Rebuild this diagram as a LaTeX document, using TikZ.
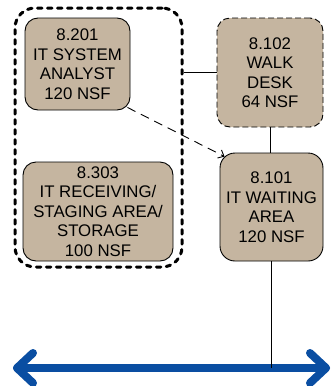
\documentclass[tikz,border=0pt]{standalone}
\usepackage{fontspec}
\setmainfont{Liberation Sans}
\usetikzlibrary{arrows.meta,calc}
\definecolor{roomfill}{RGB}{197,181,160}
\definecolor{busblue}{RGB}{10,78,162}
\tikzset{
  room/.style={draw=black, line width=0.9pt, fill=roomfill, rounded corners=13pt,
    inner sep=0pt, align=center,
    font=\fontsize{16.8}{19.5}\selectfont},
  grpbox/.style={draw=black, line width=3pt, dash pattern=on 4.5pt off 5.5pt,
    line cap=round, rounded corners=20pt, inner sep=0pt},
  link/.style={draw=black, line width=1pt},
  dashlink/.style={draw=black, line width=0.9pt, dash pattern=on 9pt off 6pt,
    -{Straight Barb[length=5pt,width=9pt]}},
  bus/.style={draw=busblue, line width=8pt, line cap=round, line join=round}
}
\begin{document}
\begin{tikzpicture}[x=1pt,y=-1pt]
\useasboundingbox (0,0) rectangle (330,386);
% group
\node[grpbox, minimum width=167pt, minimum height=259pt] (grp) at (98.5,137.5) {};
% rooms
\node[room, minimum width=105pt, minimum height=92pt] (a201) at (77.5,64)
  {8.201\\IT SYSTEM\\ANALYST\\120 NSF};
\node[room, minimum width=150pt, minimum height=99pt] (a303) at (98,211.5)
  {8.303\\IT RECEIVING/\\STAGING AREA/\\STORAGE\\100 NSF};
\node[room, dash pattern=on 6pt off 3pt, minimum width=106pt, minimum height=109pt] (a102) at (270,72.5)
  {8.102\\WALK\\DESK\\64 NSF};
\node[room, rounded corners=15pt, minimum width=103pt, minimum height=108pt] (a101) at (271.5,207)
  {8.101\\IT WAITING\\AREA\\120 NSF};
% bus
\coordinate (busL) at (17,368);
\coordinate (busR) at (326,368);
\draw[bus] (busL) -- (busR);
\draw[bus] ($(busL)+(16,-15)$) -- (busL) -- ($(busL)+(16,15)$);
\draw[bus] ($(busR)+(-16,-15)$) -- (busR) -- ($(busR)+(-16,15)$);
% connectors
\draw[link] (a102.west -| grp.east) -- (a102.west);
\draw[link] (a102.south) -- (a102.south |- a101.north);
\draw[link] (a101.south) -- (a101.south |- busL);
\draw[dashlink] ([shift={(-3,-3)}]a201.south east) -- ([shift={(5,4)}]a101.north west);
\end{tikzpicture}
\end{document}
